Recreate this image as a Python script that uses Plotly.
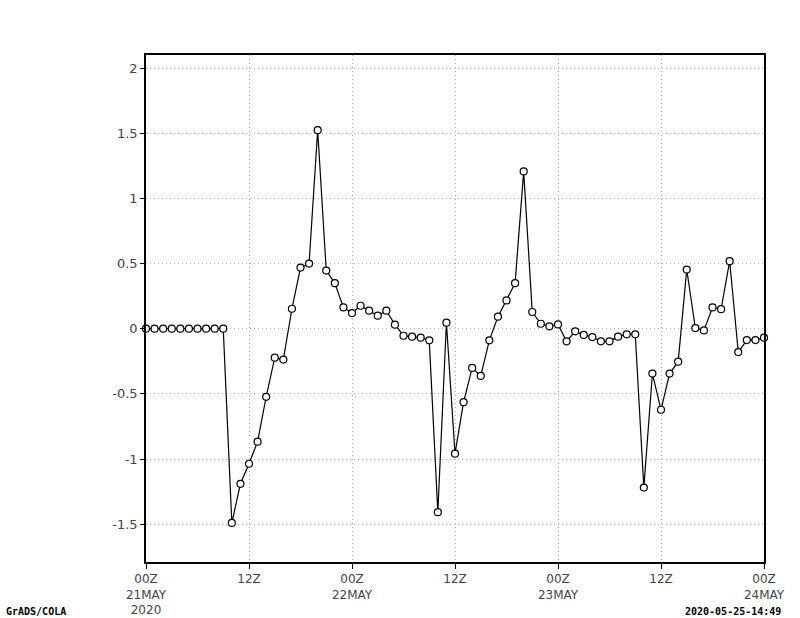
import pandas as pd
import plotly.graph_objects as go

# hourly series, 00Z 21MAY2020 .. 00Z 24MAY2020
times = pd.date_range('2020-05-21 00:00', periods=73, freq='h')
values = [
    0, 0, 0, 0, 0, 0, 0, 0, 0, 0,
    -1.49, -1.19, -1.036, -0.867, -0.523, -0.222, -0.237, 0.153, 0.469, 0.50,
    1.523, 0.446, 0.349, 0.163, 0.12, 0.176, 0.138, 0.10, 0.138, 0.031,
    -0.054, -0.061, -0.069, -0.089, -1.408, 0.046, -0.959, -0.564, -0.301, -0.362,
    -0.089, 0.092, 0.217, 0.349, 1.207, 0.128, 0.038, 0.018, 0.033, -0.097,
    -0.02, -0.048, -0.064, -0.097, -0.097, -0.061, -0.043, -0.043, -1.219, -0.344,
    -0.622, -0.344, -0.253, 0.454, 0.005, -0.013, 0.163, 0.15, 0.518, -0.179,
    -0.087, -0.087, -0.069,
]

x_tickvals = pd.date_range('2020-05-21 00:00', periods=7, freq='12h')
x_ticktext = ['00Z<br>21MAY<br>2020', '12Z', '00Z<br>22MAY', '12Z',
              '00Z<br>23MAY', '12Z', '00Z<br>24MAY']
y_tickvals = [-1.5, -1, -0.5, 0, 0.5, 1, 1.5, 2]
y_ticktext = ['-1.5', '-1', '-0.5', '0', '0.5', '1', '1.5', '2']

FONT = 'DejaVu Sans'
TXT = '#444444'
GRID = '#b0b0b0'

fig = go.Figure()
fig.add_trace(go.Scatter(
    x=times, y=values, mode='lines+markers',
    line=dict(color='black', width=1.2),
    marker=dict(symbol='circle', size=7, color='white',
                line=dict(color='black', width=1.2)),
    showlegend=False, cliponaxis=False))

L, R, T, B = 146, 36, 55, 56
pw, ph = 800 - L - R, 618 - T - B

fig.update_layout(
    width=800, height=618,
    paper_bgcolor='white', plot_bgcolor='white',
    margin=dict(l=L, r=R, t=T, b=B),
    font=dict(family=FONT, color=TXT, size=13),
    xaxis=dict(range=[times[0], times[-1]], tickvals=x_tickvals, ticktext=x_ticktext,
               showgrid=True, gridcolor=GRID, griddash='1px,3px', gridwidth=1,
               showline=True, linecolor='black', linewidth=1.5, mirror=True,
               ticks='outside', ticklen=5, tickcolor='black', zeroline=False,
               automargin=False, tickfont=dict(size=12, color=TXT, family=FONT)),
    yaxis=dict(range=[-1.79, 2.1], tickvals=y_tickvals, ticktext=y_ticktext,
               showgrid=True, gridcolor=GRID, griddash='1px,3px', gridwidth=1,
               showline=True, linecolor='black', linewidth=1.5, mirror=True,
               ticks='outside', ticklen=4, tickcolor='black', zeroline=False,
               automargin=False, tickfont=dict(size=13, color=TXT, family=FONT)),
    annotations=[
        dict(text='<b>GrADS/COLA</b>', x=(4 - L) / pw, y=(618 - B - 611) / ph,
             xref='paper', yref='paper', xanchor='left', yanchor='middle',
             showarrow=False, font=dict(size=10, color='black', family='DejaVu Sans Mono')),
        dict(text='<b>2020-05-25-14:49</b>', x=(783 - L) / pw, y=(618 - B - 611) / ph,
             xref='paper', yref='paper', xanchor='right', yanchor='middle',
             showarrow=False, font=dict(size=10, color='black', family='DejaVu Sans Mono')),
    ],
)

fig.write_html('out.html', config={'displayModeBar': False},
               post_script="document.body.style.margin='0';document.body.style.overflow='hidden';")
